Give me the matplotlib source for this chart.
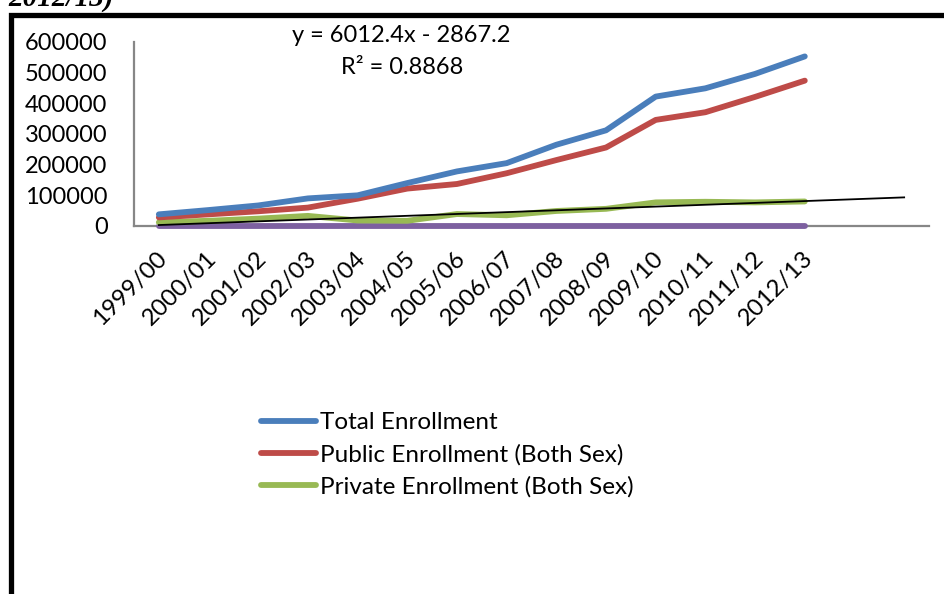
import matplotlib
matplotlib.use("Agg")
import matplotlib.pyplot as plt
from matplotlib.transforms import ScaledTranslation
from matplotlib.lines import Line2D

# ---------------- data ----------------
years = ["1999/00", "2000/01", "2001/02", "2002/03", "2003/04", "2004/05", "2005/06",
         "2006/07", "2007/08", "2008/09", "2009/10", "2010/11", "2011/12", "2012/13"]
total_enrollment = [38000, 52000, 67000, 90000, 100000, 140000, 178000,
                    205000, 265000, 312000, 422000, 449000, 496000, 553000]
public_enrollment = [28000, 38000, 48000, 60000, 89000, 122000, 137000,
                     172000, 215000, 256000, 346000, 371000, 421000, 474000]
private_enrollment = [12000, 17000, 24000, 33000, 18000, 17000, 39000,
                      35000, 49000, 56000, 77000, 79000, 77000, 80000]
other_series = [0, 0, 0, 0, 0, 0, 0, 0, 0, 0, 0, 0, 0, 0]
series_labels = ["Total Enrollment", "Public Enrollment (Both Sex)", "Private Enrollment (Both Sex)"]
trend_slope = 6012.4
trend_intercept = -2867.2
trend_forward = 2
r_squared = 0.8868
y_ticks = [0, 100000, 200000, 300000, 400000, 500000, 600000]

# ---------------- figure ----------------
W, H, DPI = 944, 594, 100
plt.rcParams['font.family'] = ['Lato', 'DejaVu Sans']
fig = plt.figure(figsize=(W / DPI, H / DPI), dpi=DPI)
fig.patch.set_facecolor('white')

def fx(px):
    return px / W

def fy(py):
    return 1 - py / H

ax_left, ax_right, ax_top, ax_bottom = 134, 929, 42, 226
ax = fig.add_axes([fx(ax_left), fy(ax_bottom), (ax_right - ax_left) / W, (ax_bottom - ax_top) / H])

n = len(years)
ncat = n + trend_forward
x = list(range(n))

colors = ["#4A7EBB", "#BE4B48", "#98B954", "#7D60A0"]
lw = 4.2
ax.plot(x, other_series, color=colors[3], lw=lw, solid_capstyle='round', clip_on=False, zorder=3)
ax.plot(x, private_enrollment, color=colors[2], lw=lw, solid_capstyle='round', clip_on=False, zorder=4, label=series_labels[2])
ax.plot(x, public_enrollment, color=colors[1], lw=lw, solid_capstyle='round', clip_on=False, zorder=5, label=series_labels[1])
ax.plot(x, total_enrollment, color=colors[0], lw=lw, solid_capstyle='round', clip_on=False, zorder=6, label=series_labels[0])

tx = [0, ncat - 1]
ty = [trend_slope * (t + 1) + trend_intercept for t in tx]
ax.plot(tx, ty, color='black', lw=1.3, clip_on=False, zorder=7)

ax.set_xlim(-0.5, ncat - 0.5)
ax.set_ylim(0, 600000)
ax.set_yticks(y_ticks)
ax.set_yticklabels([str(v) for v in y_ticks])
ax.set_xticks(x)
ax.set_xticklabels(years)
ax.tick_params(axis='both', length=0, colors='black')
ax.tick_params(axis='y', pad=19, labelsize=17)
ax.tick_params(axis='x', pad=21, labelsize=17.3)
for lab in ax.get_xticklabels():
    lab.set_rotation(45)
    lab.set_rotation_mode('anchor')
    lab.set_ha('right')
    lab.set_va('center')
    lab.set_transform(lab.get_transform() + ScaledTranslation(5 / DPI, 0, fig.dpi_scale_trans))

for s in ['top', 'right']:
    ax.spines[s].set_visible(False)
for s in ['left', 'bottom']:
    ax.spines[s].set_color('#878787')
    ax.spines[s].set_linewidth(1.6)
ax.set_facecolor('none')

# trendline equation text
fig.text(fx(401), fy(36), "y = 6012.4x - 2867.2", ha='center', va='center', fontsize=17)
fig.text(fx(402), fy(67), "R\u00b2 = %.4f" % r_squared, ha='center', va='center', fontsize=17)

# legend
handles, labels = ax.get_legend_handles_labels()
order = [labels.index(l) for l in series_labels]
leg = fig.legend([handles[i] for i in order], [labels[i] for i in order],
                 loc='upper left', bbox_to_anchor=(fx(261), fy(412)), frameon=False,
                 fontsize=17.5, handlelength=2.26, handletextpad=0.16, labelspacing=0.44,
                 borderaxespad=0, borderpad=0)

# outer frame (partial box)
fig.add_artist(Line2D([fx(10.5), fx(10.5), fx(W + 5)], [fy(H + 5), fy(14.5), fy(14.5)],
                      transform=fig.transFigure, color='black', lw=3.8, solid_joinstyle='miter'))

# clipped caption at top
fig.text(fx(8), fy(6), "2012/13)", ha='left', va='baseline', fontsize=21,
         family='Liberation Serif', style='italic', fontweight='bold')

fig.savefig("out.png", dpi=DPI)
